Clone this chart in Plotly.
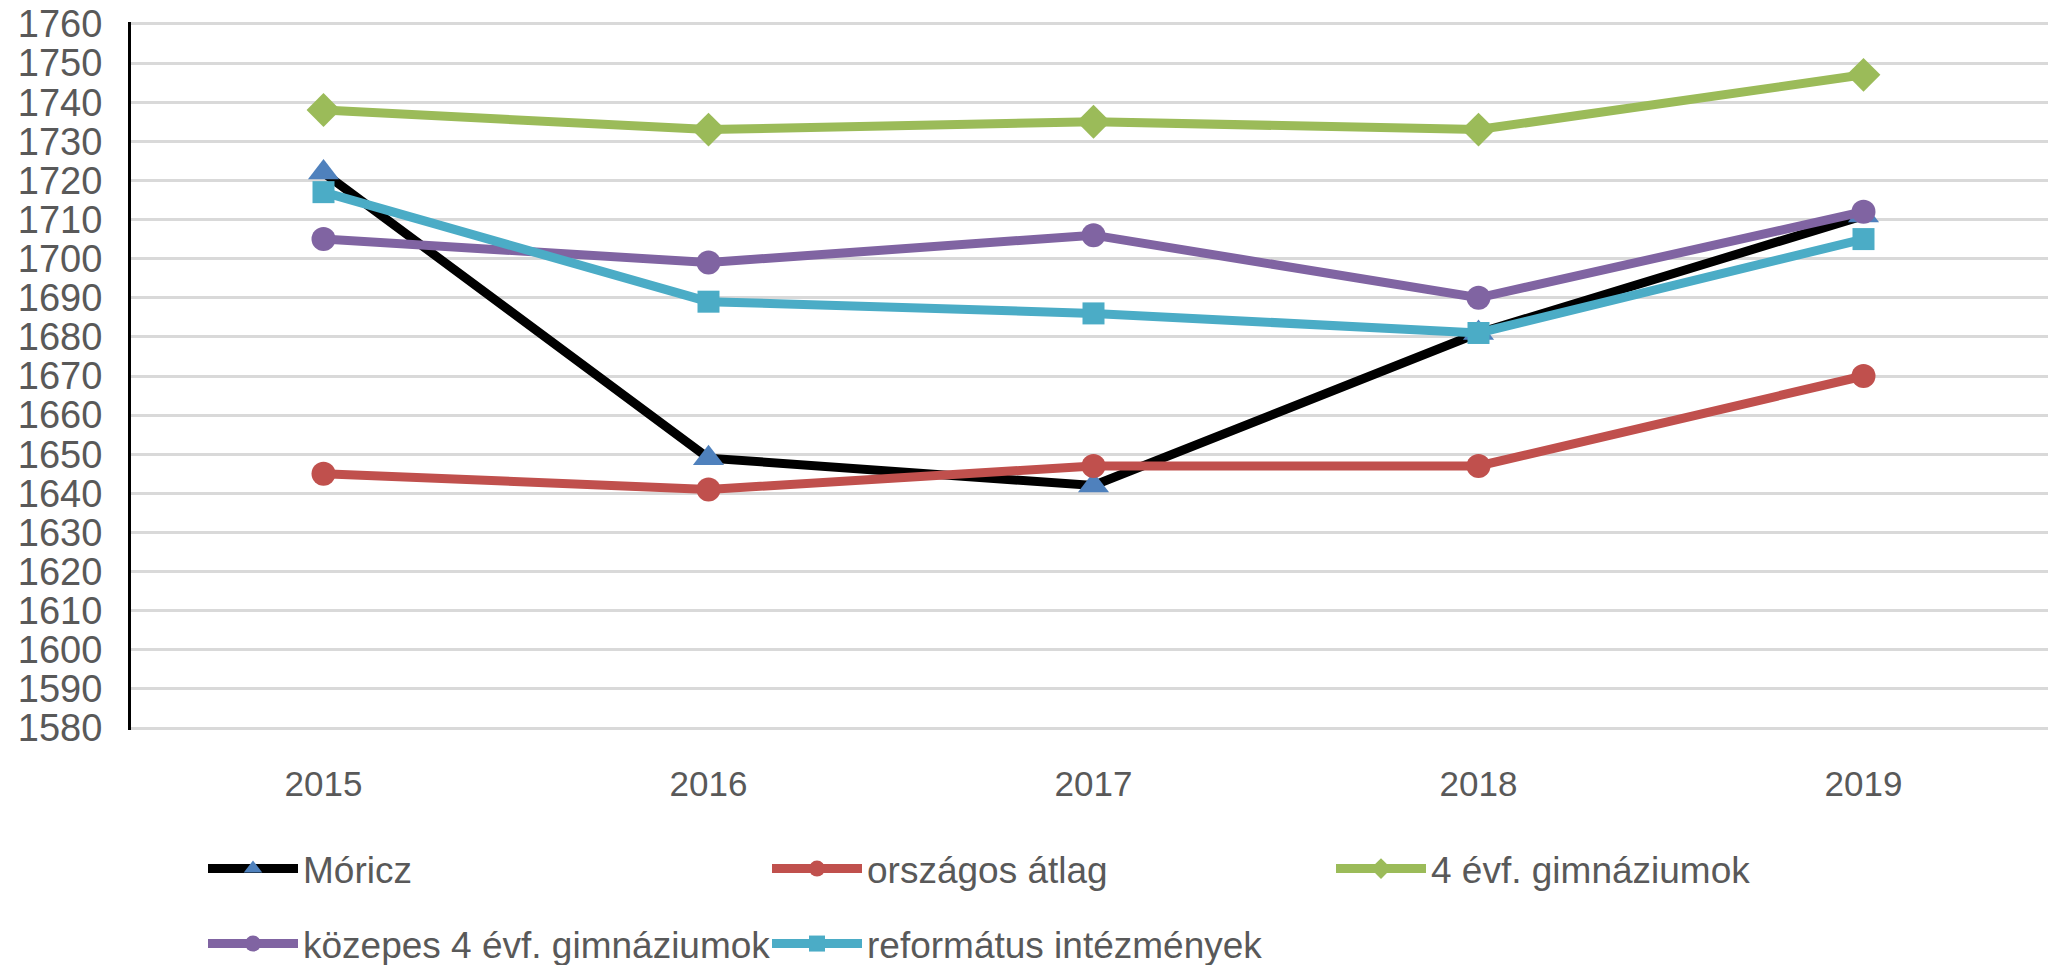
import plotly.graph_objects as go

years = ["2015", "2016", "2017", "2018", "2019"]
moricz = [1722, 1649, 1642, 1681, 1711]
orszagos = [1645, 1641, 1647, 1647, 1670]
evf4 = [1738, 1733, 1735, 1733, 1747]
kozepes = [1705, 1699, 1706, 1690, 1712]
reformatus = [1717, 1689, 1686, 1681, 1705]
y_ticks = list(range(1580, 1761, 10))

FONT = "Liberation Sans, Arial, sans-serif"
GRAY = "#595959"

# page body has an 8px default margin, so the figure is drawn 8px in from the top-left
W, H = 2048, 957

fig = go.Figure()
LW = 9
MS = 24

fig.add_trace(go.Scatter(x=years, y=moricz, name="Móricz", mode="lines+markers",
                         line=dict(color="black", width=LW),
                         marker=dict(symbol="triangle-up", size=MS + 3, color="#4F81BD"),
                         legend="legend"))
fig.add_trace(go.Scatter(x=years, y=orszagos, name="országos átlag", mode="lines+markers",
                         line=dict(color="#C0504D", width=LW),
                         marker=dict(symbol="circle", size=MS, color="#C0504D"),
                         legend="legend"))
fig.add_trace(go.Scatter(x=years, y=evf4, name="4 évf. gimnáziumok", mode="lines+markers",
                         line=dict(color="#9BBB59", width=LW),
                         marker=dict(symbol="diamond", size=MS + 2, color="#9BBB59"),
                         legend="legend"))
fig.add_trace(go.Scatter(x=years, y=kozepes, name="közepes 4 évf. gimnáziumok", mode="lines+markers",
                         line=dict(color="#8064A2", width=LW),
                         marker=dict(symbol="circle", size=MS, color="#8064A2"),
                         legend="legend2"))
fig.add_trace(go.Scatter(x=years, y=reformatus, name="református intézmények", mode="lines+markers",
                         line=dict(color="#4BACC6", width=LW),
                         marker=dict(symbol="square", size=MS - 2, color="#4BACC6"),
                         legend="legend2"))

leg_common = dict(orientation="h", xref="container", yref="container",
                  xanchor="left", yanchor="middle",
                  entrywidth=459, entrywidthmode="pixels",
                  itemwidth=90,
                  font=dict(family=FONT, size=37, color=GRAY),
                  bgcolor="rgba(0,0,0,0)", borderwidth=0)

fig.update_layout(
    width=W, height=H,
    margin=dict(l=123, r=0, t=14, b=235, autoexpand=False),
    plot_bgcolor="white", paper_bgcolor="white",
    font=dict(family=FONT, color=GRAY),
    xaxis=dict(type="category", range=[-0.5, 4.5], showgrid=False, showline=False,
               ticks="", automargin=False,
               tickfont=dict(family=FONT, size=35, color=GRAY),
               ticklabelstandoff=30),
    yaxis=dict(range=[1579.5, 1760.5], tickvals=y_ticks, showgrid=True,
               gridcolor="#D9D9D9", gridwidth=3, zeroline=False,
               showline=True, linecolor="black", linewidth=3,
               ticks="", automargin=False, ticklabeloverflow="allow",
               tickfont=dict(family=FONT, size=38, color=GRAY),
               ticklabelstandoff=18),
    legend=dict(x=195 / W, y=1 - 861 / H, **leg_common),
    legend2=dict(x=195 / W, y=1 - 936 / H, **leg_common),
)

fig.write_html("out.html")
